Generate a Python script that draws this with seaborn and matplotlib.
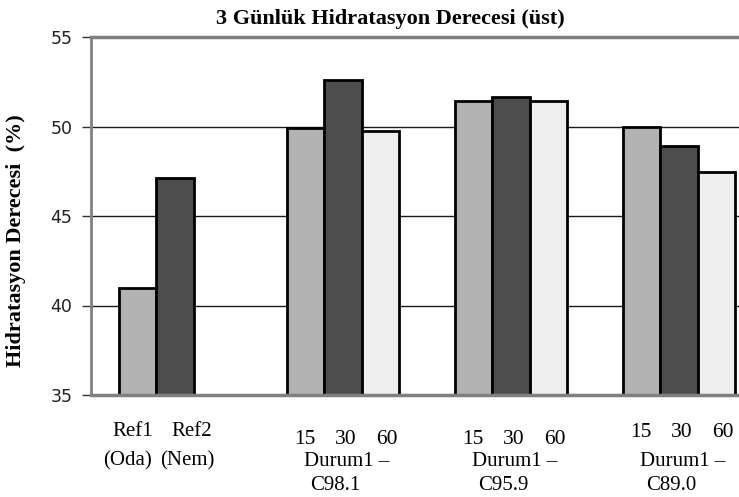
import numpy as np
import pandas as pd
import matplotlib
matplotlib.use("Agg")
import matplotlib.pyplot as plt
import seaborn as sns

# ---- data ----
categories = ["Ref", "Durum1 –\nC98.1", "Durum1 –\nC95.9", "Durum1 –\nC89.0"]
slots = ["15", "30", "60"]
ref_values = [41.0, 47.1]            # Ref1 (Oda), Ref2 (Nem)
c981_values = [49.9, 52.6, 49.75]
c959_values = [51.45, 51.65, 51.45]
c890_values = [49.95, 48.9, 47.45]
bar_colors = ["#b3b3b3", "#4d4d4d", "#eeeeee"]
yticks = [35, 40, 45, 50, 55]

rows = []
for s, v in zip(slots, ref_values):
    rows.append((categories[0], s, v))
for cat, vals in zip(categories[1:], [c981_values, c959_values, c890_values]):
    for s, v in zip(slots, vals):
        rows.append((cat, s, v))
df = pd.DataFrame(rows, columns=["cat", "slot", "val"])

sns.set_theme(style="white")
plt.rcParams["font.family"] = ["DejaVu Sans"]

W, H = 739, 497
fig = plt.figure(figsize=(W / 100, H / 100), dpi=100)
ax_left, ax_right, ax_top, ax_bot = 91, 739, 37, 395
ax = fig.add_axes([ax_left / W, 1 - ax_bot / H, (ax_right - ax_left) / W, (ax_bot - ax_top) / H])

sns.barplot(data=df, x="cat", y="val", hue="slot", hue_order=slots, order=categories,
            palette=bar_colors, width=0.67, edgecolor="black", linewidth=2,
            dodge=True, legend=False, ax=ax, zorder=2)

px_per_cat = 168.0
ax.set_xlim(-0.5, -0.5 + (ax_right - ax_left) / px_per_cat)
ax.set_ylim(35, 55)
ax.set_yticks(yticks)
ax.set_yticklabels([str(t) for t in yticks], fontsize=12.5, color="#222222")
ax.set_xticks([])
ax.set_xlabel("")
ax.set_ylabel("")

for t in [40, 45, 50]:
    ax.axhline(t, color="#1a1a1a", lw=1.0, zorder=0.5)

ax.tick_params(axis="y", which="major", direction="out", length=6.5, width=1,
               color="#333333", pad=7, left=True)
for side in ["left", "top", "bottom"]:
    ax.spines[side].set_visible(True)
    ax.spines[side].set_color("#808080")
ax.spines["left"].set_linewidth(2.0)
ax.spines["top"].set_linewidth(2.5)
ax.spines["bottom"].set_linewidth(2.5)
ax.spines["right"].set_visible(False)

# ---- custom category labels ----
serif = ["Liberation Serif", "DejaVu Serif"]
xt = ax.get_xaxis_transform()
def ypos(py):
    return (ax_bot - py) / (ax_bot - ax_top)
def dx(px):
    return px / px_per_cat

fs = 15
# Ref group
ax.text(0 + dx(-42), ypos(436), "Ref1", transform=xt, ha="center", va="baseline",
        fontsize=fs, family=serif, color="black")
ax.text(0 + dx(17), ypos(436), "Ref2", transform=xt, ha="center", va="baseline",
        fontsize=fs, family=serif, color="black")
ax.text(0 + dx(-48), ypos(465), "(Oda)", transform=xt, ha="center", va="baseline",
        fontsize=fs, family=serif, color="black")
ax.text(0 + dx(12), ypos(465), "(Nem)", transform=xt, ha="center", va="baseline",
        fontsize=fs, family=serif, color="black")

num_base = [444, 444, 437]
for i, cat in enumerate(categories[1:], start=1):
    for j, s in enumerate(slots):
        ax.text(i + dx(3 + (j - 1) * 41), ypos(num_base[i - 1]), s, transform=xt,
                ha="center", va="baseline", fontsize=15.5, family=serif, color="black")
    l1, l2 = cat.split("\n")
    ax.text(i + dx(4), ypos(466), l1, transform=xt, ha="center", va="baseline",
            fontsize=fs, family=serif, color="black")
    ax.text(i + dx(-8), ypos(490), l2, transform=xt, ha="center", va="baseline",
            fontsize=fs, family=serif, color="black")

fig.text(390 / W, 1 - 24 / H, "3 Günlük Hidratasyon Derecesi (üst)", ha="center",
         va="baseline", fontsize=16, fontweight="bold", family=serif, color="black")
fig.text(16 / W, 1 - 241 / H, "Hidratasyon Derecesi  (%)", rotation=90, ha="center",
         va="center", fontsize=16, fontweight="bold", family=serif, color="black")

fig.savefig("out.png", dpi=100)
